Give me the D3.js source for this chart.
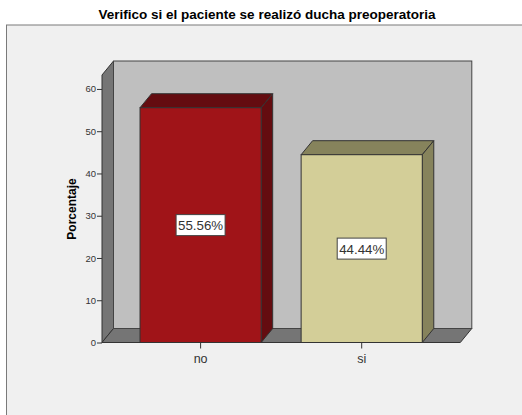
<!DOCTYPE html>
<html>
<head>
<meta charset="utf-8">
<script src="https://cdn.jsdelivr.net/npm/d3@7"></script>
<style>
	html, body { margin: 0; padding: 0; background: #fff; overflow: hidden; }
	svg { display: block; }
	text { font-family: "Liberation Sans", Arial, sans-serif; fill: #333; }
</style>
</head>
<body>
<div id="canvas"></div>
<script>
const title = 'Verifico si el paciente se realizó ducha preoperatoria';
const yTitle = 'Porcentaje';
const categories = ['no', 'si'];
const percentages = [55.56, 44.44];
const yTicks = [0, 10, 20, 30, 40, 50, 60];
const yMax = 63.3;

const colors = {
	no: { front: '#a01418', side: '#640c10' },
	si: { front: '#d3ce98', side: '#86835c' }
};

function drawChart () {
	const w = 522;
	const h = 415;
	// 3d offset of the back wall
	const dx = 11.5;
	const dy = -14;

	const svg = d3.select('#canvas').append('svg')
		.attr('width', w)
		.attr('height', h)
		.attr('viewBox', [0, 0, w, h]);

	svg.append('rect')
		.attr('x', 6.5)
		.attr('y', 25)
		.attr('width', w)
		.attr('height', h)
		.style('fill', '#f0f0f0')
		.style('stroke', '#7a7a7a');

	svg.append('text')
		.attr('x', 267)
		.attr('y', 19)
		.attr('text-anchor', 'middle')
		.style('font-size', '13.5px')
		.style('font-weight', 'bold')
		.style('fill', '#000')
		.text(title);

	const x = d3.scaleBand()
		.domain(categories)
		.range([102, 460.3])
		.paddingInner(0.248)
		.paddingOuter(0.236);

	const y = d3.scaleLinear()
		.domain([0, yMax])
		.range([342.5, 75]);

	const [x0, x1] = x.range();
	const [y0, y1] = y.range();
	const poly = pts => pts.map(d => d.join(',')).join(' ');

	// walls and floor
	svg.append('polygon')
		.attr('points', poly([[x0, y0], [x0 + dx, y0 + dy], [x0 + dx, y1 + dy], [x0, y1]]))
		.style('fill', '#757575')
		.style('stroke', '#333');
	svg.append('polygon')
		.attr('points', poly([[x0, y0], [x1, y0], [x1 + dx, y0 + dy], [x0 + dx, y0 + dy]]))
		.style('fill', '#757575')
		.style('stroke', '#333');
	svg.append('rect')
		.attr('x', x0 + dx)
		.attr('y', y1 + dy)
		.attr('width', x1 - x0)
		.attr('height', y0 - y1)
		.style('fill', '#bfbfbf')
		.style('stroke', '#444');

	// bars
	const rows = categories.map((c, i) => ({ key: c, value: percentages[i] }));
	const bars = svg.append('g').selectAll('g')
		.data(rows)
		.join('g');

	bars.append('polygon')
		.attr('points', d => {
			const l = x(d.key), r = l + x.bandwidth(), t = y(d.value);
			return poly([[l, t], [l + dx, t + dy], [r + dx, t + dy], [r, t]]);
		})
		.style('fill', d => colors[d.key].side)
		.style('stroke', '#333');
	bars.append('polygon')
		.attr('points', d => {
			const r = x(d.key) + x.bandwidth(), t = y(d.value);
			return poly([[r, t], [r + dx, t + dy], [r + dx, y0 + dy], [r, y0]]);
		})
		.style('fill', d => colors[d.key].side)
		.style('stroke', '#333');
	bars.append('rect')
		.attr('x', d => x(d.key))
		.attr('y', d => y(d.value))
		.attr('width', x.bandwidth())
		.attr('height', d => y0 - y(d.value))
		.style('fill', d => colors[d.key].front)
		.style('stroke', '#333');

	// value labels
	const labels = bars.append('g')
		.attr('transform', d => `translate(${x(d.key) + x.bandwidth() / 2},${(y(d.value) + y0) / 2})`);
	labels.append('rect')
		.attr('x', -24.5)
		.attr('y', -10.5)
		.attr('width', 49)
		.attr('height', 21)
		.style('fill', '#fff')
		.style('stroke', '#444');
	labels.append('text')
		.attr('text-anchor', 'middle')
		.attr('y', 5)
		.style('font-size', '13.3px')
		.text(d => `${d.value.toFixed(2)}%`);

	// axes
	const yAxis = svg.append('g')
		.attr('transform', `translate(${x0},0)`)
		.call(d3.axisLeft(y).tickValues(yTicks).tickSize(5).tickPadding(1));
	yAxis.select('.domain').remove();
	yAxis.selectAll('line').style('stroke', '#333');
	yAxis.selectAll('text').style('font-size', '9.5px').style('font-family', '"Liberation Sans", Arial, sans-serif');

	const xAxis = svg.append('g')
		.attr('transform', `translate(0,${y0})`)
		.call(d3.axisBottom(x).tickSize(6).tickPadding(6));
	xAxis.select('.domain').remove();
	xAxis.selectAll('line').style('stroke', '#333');
	xAxis.selectAll('text').style('font-size', '12.5px').style('font-family', '"Liberation Sans", Arial, sans-serif');

	svg.append('text')
		.attr('transform', 'translate(76,209) rotate(-90)')
		.attr('text-anchor', 'middle')
		.style('font-size', '12px')
		.style('font-weight', 'bold')
		.style('fill', '#000')
		.text(yTitle);
}

drawChart();
</script>
</body>
</html>
